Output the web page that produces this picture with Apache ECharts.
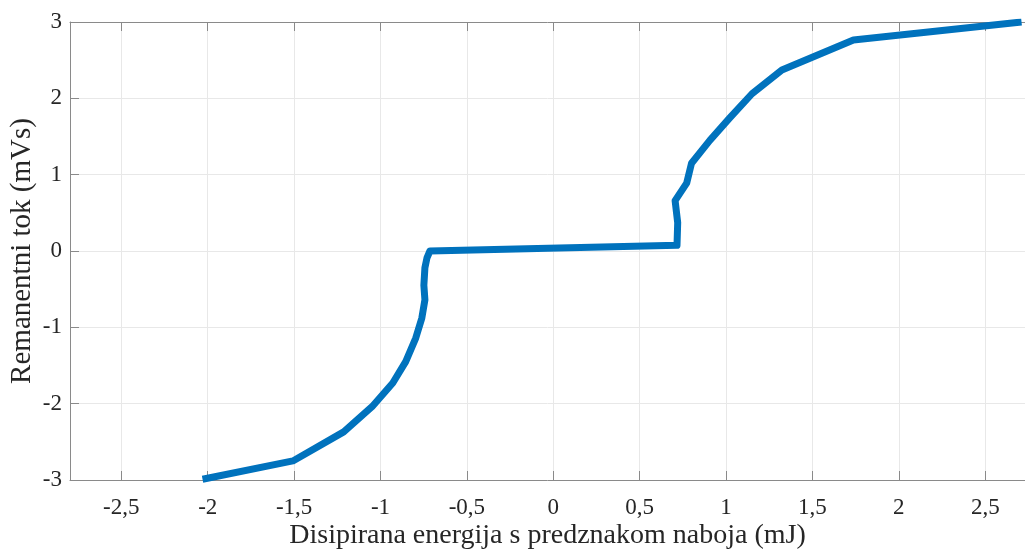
<!DOCTYPE html>
<html>
<head>
<meta charset="utf-8">
<script src="https://cdn.jsdelivr.net/npm/echarts@6/dist/echarts.min.js"></script>
<style>
  html, body { margin: 0; padding: 0; background: #fff; }
  #chart { width: 1025px; height: 550px; }
</style>
</head>
<body>
<div id="chart"></div>
<script>
// curve (energy mJ, flux mVs)
const energy = [-2.03, -1.507, -1.213, -1.049, -0.929, -0.854, -0.796, -0.761, -0.743, -0.749, -0.743, -0.731, -0.714,
  0.716, 0.72, 0.705, 0.772, 0.80, 0.906, 1.02, 1.15, 1.323, 1.737, 2.71];
const flux = [-2.99, -2.75, -2.37, -2.04, -1.73, -1.45, -1.14, -0.88, -0.64, -0.45, -0.22, -0.09, 0,
  0.075, 0.37, 0.66, 0.89, 1.15, 1.45, 1.74, 2.06, 2.37, 2.765, 3.0];
const xTicks = [-2.5, -2, -1.5, -1, -0.5, 0, 0.5, 1, 1.5, 2, 2.5];

const font = 'Liberation Serif';
const axisGrey = '#8a8a8a';
const comma = v => String(v).replace('.', ',');

var chart = echarts.init(document.getElementById('chart'));

const option = {
  animation: false,
  grid: { left: 70, right: 0, top: 22, bottom: 70, outerBoundsMode: 'none' },
  xAxis: [
    {
      type: 'value',
      min: -2.797,
      max: 2.73,
      name: 'Disipirana energija s predznakom naboja (mJ)',
      nameLocation: 'middle',
      nameGap: 42,
      nameMoveOverlap: false,
      nameTextStyle: { fontFamily: font, fontSize: 28, color: '#262626' },
      axisLine: { onZero: false, lineStyle: { color: axisGrey } },
      axisTick: { inside: true, length: 9, customValues: xTicks, lineStyle: { color: axisGrey } },
      axisLabel: { customValues: xTicks, formatter: comma, fontFamily: font, fontSize: 23, color: '#262626', margin: 16 },
      splitLine: { show: true, lineStyle: { color: '#e8e8e8' } }
    },
    {
      type: 'value',
      position: 'top',
      min: -2.797,
      max: 2.73,
      axisLine: { onZero: false, lineStyle: { color: axisGrey } },
      axisTick: { inside: true, length: 9, customValues: xTicks, lineStyle: { color: axisGrey } },
      axisLabel: { show: false },
      splitLine: { show: false }
    }
  ],
  yAxis: {
    type: 'value',
    min: -3,
    max: 3,
    interval: 1,
    name: 'Remanentni tok (mVs)',
    nameLocation: 'middle',
    nameGap: 33,
    nameMoveOverlap: false,
    nameTextStyle: { fontFamily: font, fontSize: 29, color: '#262626' },
    axisLine: { show: true, onZero: false, lineStyle: { color: axisGrey } },
    axisTick: { show: true, inside: true, length: 9, lineStyle: { color: axisGrey } },
    axisLabel: { formatter: comma, fontFamily: font, fontSize: 23, color: '#262626', margin: 8 },
    splitLine: { show: true, lineStyle: { color: '#e8e8e8' } }
  },
  series: [
    {
      type: 'line',
      data: energy.map((e, i) => [e, flux[i]]),
      showSymbol: false,
      lineStyle: { color: '#0072BD', width: 7, join: 'round', cap: 'butt' }
    }
  ]
};

chart.setOption(option);
</script>
</body>
</html>
